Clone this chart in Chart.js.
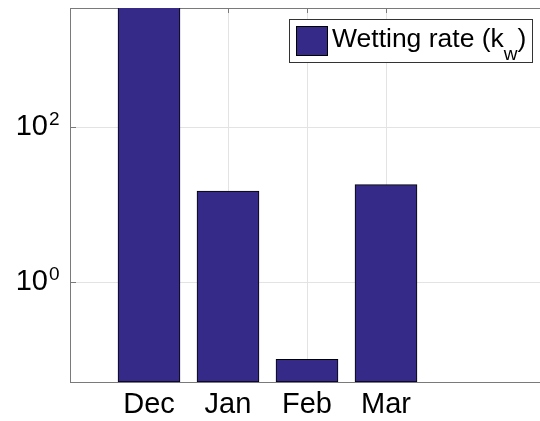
<!DOCTYPE html>
<html lang="en">
  <head>
    <meta charset="UTF-8" />
    <meta name="viewport" content="width=device-width, initial-scale=1.0" />
    <title>Wetting rate</title>
    <script src="https://cdn.jsdelivr.net/npm/chart.js"></script>
    <style>
      body { margin: 0; background: #fff; }
      #wrap { width: 540px; height: 421px; overflow: hidden; }
    </style>
  </head>
  <body>
    <div id="wrap"><canvas id="chart" width="560" height="421"></canvas></div>
    <script>
      // data (Dec runs off the top of the axes)
      const months = ["Dec", "Jan", "Feb", "Mar"];
      const monthPos = [1, 2, 3, 4];
      const wettingRate = [5000, 15.0, 0.101, 18.1];
      const yTicks = [1, 100];
      const xLimits = [0, 6];
      const yLimits = [0.0514, 3450];

      const FONT = "'Liberation Sans', 'DejaVu Sans', sans-serif";
      const barColor = "rgb(53, 42, 135)";
      const axisColor = "#7a7a7a";
      const gridColor = "#e3e3e3";

      // box top edge + inward tick marks like the original
      const axisDecor = {
        id: "axisDecor",
        beforeDatasetsDraw(chart) {
          const { ctx, chartArea: a, scales } = chart;
          ctx.save();
          ctx.strokeStyle = axisColor;
          ctx.lineWidth = 1;
          ctx.beginPath();
          ctx.moveTo(a.left, Math.round(a.top) + 0.5);
          ctx.lineTo(a.right, Math.round(a.top) + 0.5);
          scales.x.ticks.forEach((t, i) => {
            const px = Math.round(scales.x.getPixelForTick(i)) + 0.5;
            ctx.moveTo(px, a.bottom);
            ctx.lineTo(px, a.bottom - 5);
            ctx.moveTo(px, a.top);
            ctx.lineTo(px, a.top + 5);
          });
          scales.y.ticks.forEach((t, i) => {
            const py = Math.round(scales.y.getPixelForTick(i)) + 0.5;
            ctx.moveTo(a.left, py);
            ctx.lineTo(a.left + 6, py);
          });
          ctx.stroke();
          ctx.restore();
        },
        // exponents for the 10^n tick labels
        afterDraw(chart) {
          const { ctx, scales } = chart;
          ctx.save();
          ctx.fillStyle = "#000";
          ctx.font = "19px " + FONT;
          ctx.textAlign = "left";
          ctx.textBaseline = "alphabetic";
          scales.y.ticks.forEach((t, i) => {
            const py = scales.y.getPixelForTick(i);
            ctx.fillText(String(Math.round(Math.log10(t.value))), 49, py - 2);
          });
          ctx.restore();
        },
      };

      // legend with subscript w
      const kwLegend = {
        id: "kwLegend",
        afterDraw(chart) {
          const ctx = chart.ctx;
          const ds = chart.data.datasets[0];
          ctx.save();
          ctx.fillStyle = "#fff";
          ctx.fillRect(289.5, 19.5, 243, 43);
          ctx.strokeStyle = "#333";
          ctx.lineWidth = 1;
          ctx.strokeRect(289.5, 19.5, 243, 43);
          ctx.fillStyle = ds.backgroundColor;
          ctx.fillRect(296, 26, 32, 30);
          ctx.strokeStyle = "#000";
          ctx.strokeRect(296.5, 26.5, 31, 29);
          ctx.fillStyle = "#000";
          ctx.textBaseline = "alphabetic";
          ctx.font = "26.5px " + FONT;
          let x = 332;
          const main = ds.label.split("_")[0];
          const sub = ds.label.split("_")[1].replace(")", "");
          ctx.fillText(main, x, 47);
          x += ctx.measureText(main).width;
          ctx.font = "19px " + FONT;
          ctx.fillText(sub, x, 60);
          x += ctx.measureText(sub).width;
          ctx.font = "26.5px " + FONT;
          ctx.fillText(")", x, 47);
          ctx.restore();
        },
      };

      function noEdgePadding(s) {
        s.paddingTop = 0;
        s.paddingBottom = 0;
        s.paddingLeft = 0;
        s.paddingRight = 0;
      }

      ChartIt();

      function ChartIt() {
        const ctx = document.getElementById("chart");
        new Chart(ctx, {
          type: "bar",
          data: {
            datasets: [
              {
                label: "Wetting rate (k_w)",
                data: monthPos.map((x, i) => ({ x: x, y: wettingRate[i] })),
                backgroundColor: barColor,
                borderColor: "#000",
                borderWidth: 1,
                borderSkipped: false,
                barThickness: 62,
                clip: 0,
              },
            ],
          },
          options: {
            responsive: false,
            animation: false,
            layout: { padding: { top: 8, right: 16, left: 0, bottom: 0 } },
            plugins: {
              legend: { display: false },
              tooltip: { enabled: false },
            },
            scales: {
              x: {
                type: "linear",
                offset: false,
                min: xLimits[0],
                max: xLimits[1],
                afterBuildTicks: (s) => {
                  s.ticks = monthPos.map((v) => ({ value: v }));
                },
                afterFit: (s) => {
                  s.height = 39;
                  noEdgePadding(s);
                },
                ticks: {
                  autoSkip: false,
                  maxRotation: 0,
                  padding: 6,
                  color: "#000",
                  font: { family: FONT, size: 29 },
                  callback: (v) => months[monthPos.indexOf(v)] || "",
                },
                grid: { color: gridColor, drawTicks: false, offset: false },
                border: { color: axisColor },
              },
              y: {
                type: "logarithmic",
                min: yLimits[0],
                max: yLimits[1],
                afterBuildTicks: (s) => {
                  s.ticks = yTicks.map((v) => ({ value: v }));
                },
                afterFit: (s) => {
                  s.width = 70;
                  noEdgePadding(s);
                },
                ticks: {
                  padding: 22,
                  color: "#000",
                  font: { family: FONT, size: 29 },
                  callback: () => "10",
                },
                grid: { color: gridColor, drawTicks: false },
                border: { color: axisColor },
              },
            },
          },
          plugins: [axisDecor, kwLegend],
        });
      }
    </script>
  </body>
</html>
